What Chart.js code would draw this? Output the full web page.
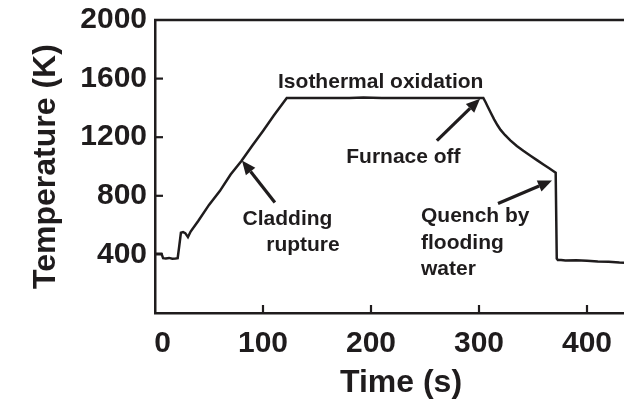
<!DOCTYPE html>
<html>
<head>
<meta charset="utf-8">
<script src="https://cdn.jsdelivr.net/npm/chart.js@4.4.1/dist/chart.umd.min.js"></script>
<style>
html, body { margin: 0; padding: 0; background: #fff; overflow: hidden; }
#wrap { position: relative; width: 650px; height: 407px; }
</style>
</head>
<body>
<div id="wrap"><canvas id="tempChart"></canvas></div>
<script>
// Datos: tiempo (s) y temperatura (K)
const timeSec = [0, 6, 7.5, 10, 13, 16, 19, 21, 22.5, 24, 26, 28, 30.5, 33,
    40, 50, 60, 70, 80, 90, 100, 110, 122,
    150, 180, 193, 210, 240, 270, 304,
    306, 308, 311, 314, 317, 320, 324, 329, 335, 341, 348, 354, 360, 365, 369, 371,
    372, 373, 376, 380, 390, 400, 410, 420, 430, 440, 450];
const tempK = [405, 405, 374, 372, 376, 370, 372, 374, 460, 548, 552, 545, 518, 556,
    628, 738, 832, 945, 1038, 1142, 1243, 1348, 1468,
    1468, 1468, 1471, 1468, 1468, 1468, 1468,
    1440, 1410, 1365, 1322, 1283, 1250, 1215, 1178, 1140, 1107, 1072, 1042, 1012, 988, 968, 958,
    372, 362, 362, 358, 360, 356, 352, 350, 345, 342, 340];

const xTickValues = [0, 100, 200, 300, 400];
const yTickValues = [400, 800, 1200, 1600, 2000];
const xAxisTitle = 'Time (s)';
const yAxisTitle = 'Temperature (K)';

// Notas ancladas en coordenadas de datos (s, K)
const notes = [
    { text: 'Isothermal oxidation', t: 209, k: 1537, align: 'center' },
    { text: 'Furnace off', t: 230, k: 1027, align: 'center' },
    { text: 'Cladding', t: 122.7, k: 599, align: 'center' },
    { text: 'rupture', t: 137, k: 420, align: 'center' },
    { text: 'Quench by', t: 246.3, k: 619, align: 'left' },
    { text: 'flooding', t: 246.3, k: 437, align: 'left' },
    { text: 'water', t: 246.3, k: 259, align: 'left' }
];
const arrows = [
    { from: [111, 755], to: [80.5, 1041] },
    { from: [261, 1177], to: [301, 1463] },
    { from: [317.6, 748], to: [367.6, 905] }
];

const ink = '#1f1c1d';
const fontFamily = "'Liberation Sans', Arial, Helvetica, sans-serif";

function drawArrow(ctx, x0, y0, x1, y1) {
    const ang = Math.atan2(y1 - y0, x1 - x0);
    const headLen = 14, headHalf = 6;
    const bx = x1 - headLen * Math.cos(ang);
    const by = y1 - headLen * Math.sin(ang);
    ctx.lineWidth = 3.2;
    ctx.beginPath();
    ctx.moveTo(x0, y0);
    ctx.lineTo(bx, by);
    ctx.stroke();
    ctx.beginPath();
    ctx.moveTo(x1, y1);
    ctx.lineTo(bx + headHalf * Math.sin(ang), by - headHalf * Math.cos(ang));
    ctx.lineTo(bx - headHalf * Math.sin(ang), by + headHalf * Math.cos(ang));
    ctx.closePath();
    ctx.fill();
}

// Borde superior, marcas hacia dentro, títulos y anotaciones
const decorations = {
    id: 'decorations',
    afterDraw(chart) {
        const { ctx, chartArea } = chart;
        const xs = chart.scales.x, ys = chart.scales.y;
        ctx.save();
        ctx.strokeStyle = ink;
        ctx.fillStyle = ink;
        ctx.lineCap = 'butt';

        ctx.lineWidth = 2.5;
        ctx.beginPath();
        ctx.moveTo(chartArea.left - 1, chartArea.top);
        ctx.lineTo(chartArea.right + 5, chartArea.top);
        ctx.stroke();

        ctx.lineWidth = 2.2;
        xTickValues.forEach(v => {
            if (v === 0) return;
            const px = xs.getPixelForValue(v);
            ctx.beginPath();
            ctx.moveTo(px, chartArea.bottom);
            ctx.lineTo(px, chartArea.bottom - 8);
            ctx.stroke();
        });
        yTickValues.forEach(v => {
            if (v === 2000) return;
            const py = ys.getPixelForValue(v);
            ctx.beginPath();
            ctx.moveTo(chartArea.left, py);
            ctx.lineTo(chartArea.left + 8, py);
            ctx.stroke();
        });

        // títulos de ejes
        ctx.font = 'bold 32px ' + fontFamily;
        ctx.textBaseline = 'alphabetic';
        ctx.textAlign = 'center';
        ctx.fillText(xAxisTitle, 401, 392);
        ctx.save();
        ctx.translate(55, (chartArea.top + chartArea.bottom) / 2);
        ctx.rotate(-Math.PI / 2);
        ctx.fillText(yAxisTitle, 0, 0);
        ctx.restore();

        // anotaciones
        ctx.font = 'bold 21px ' + fontFamily;
        notes.forEach(n => {
            ctx.textAlign = n.align;
            ctx.fillText(n.text, xs.getPixelForValue(n.t), ys.getPixelForValue(n.k));
        });
        arrows.forEach(a => {
            drawArrow(ctx,
                xs.getPixelForValue(a.from[0]), ys.getPixelForValue(a.from[1]),
                xs.getPixelForValue(a.to[0]), ys.getPixelForValue(a.to[1]));
        });
        ctx.restore();
    }
};

const ctx = document.getElementById('tempChart').getContext('2d');
const tempChart = new Chart(ctx, {
    type: 'line',
    data: {
        datasets: [{
            label: 'Temperature',
            data: timeSec.map((t, i) => ({ x: t, y: tempK[i] })),
            borderColor: ink,
            borderWidth: 2.5,
            pointRadius: 0,
            tension: 0,
            fill: false
        }]
    },
    options: {
        responsive: true,
        maintainAspectRatio: false,
        animation: false,
        layout: { padding: { top: 0, right: 9, left: 0, bottom: 0 } },
        plugins: {
            legend: { display: false },
            tooltip: { enabled: false }
        },
        scales: {
            x: {
                type: 'linear',
                min: 0,
                max: 450,
                afterFit: s => { s.height = 94; },
                afterBuildTicks: s => { s.ticks = xTickValues.map(v => ({ value: v })); },
                grid: { display: true, drawOnChartArea: false, drawTicks: false },
                border: { display: true, width: 2.5, color: ink },
                ticks: {
                    color: ink,
                    padding: 13,
                    maxRotation: 0,
                    // el "0" del original está algo desplazado a la derecha
                    callback: v => v === 0 ? '\u20020' : String(v),
                    font: { family: fontFamily, size: 30, weight: 'bold' }
                }
            },
            y: {
                type: 'linear',
                min: 0,
                max: 2000,
                afterFit: s => { s.width = 155; },
                afterBuildTicks: s => { s.ticks = yTickValues.map(v => ({ value: v })); },
                grid: { display: true, drawOnChartArea: false, drawTicks: false },
                border: { display: true, width: 2.5, color: ink },
                ticks: {
                    color: ink,
                    padding: 8,
                    callback: v => String(v),
                    font: { family: fontFamily, size: 30, weight: 'bold', lineHeight: 0.8 }
                }
            }
        }
    },
    plugins: [decorations]
});
</script>
</body>
</html>
